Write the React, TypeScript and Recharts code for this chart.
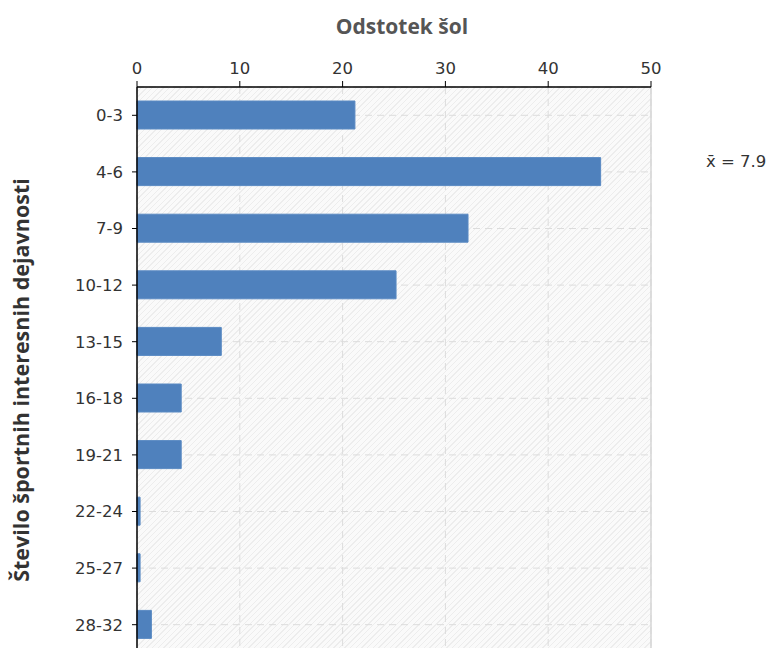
import { BarChart, Bar, XAxis, YAxis, CartesianGrid, ReferenceLine } from 'recharts'

// Distribution of schools by number of sport activities (percent)
const categories = ['0-3', '4-6', '7-9', '10-12', '13-15', '16-18', '19-21', '22-24', '25-27', '28-32']
const percents = [21.2, 45.1, 32.2, 25.2, 8.2, 4.3, 4.3, 0.3, 0.3, 1.4]
const xTicks = [0, 10, 20, 30, 40, 50]
const meanLabel = 'x\u0304 = 7.9'

const data = categories.map((c, i) => ({ group: c, pct: percents[i] }))

const tickStyle = { fill: '#333', fontSize: 16.5, fontFamily: 'DejaVu Sans' }

// plot box (px)
const PLOT = { left: 137, top: 87, width: 514, height: 566 }

export default function App() {
  return (
    <div
      style={{
        position: 'absolute',
        left: 0,
        top: 0,
        width: 775,
        height: 648,
        overflow: 'hidden',
        background: '#fff',
        fontFamily: 'DejaVu Sans',
      }}
    >
      {/* hatched plot background */}
      <div
        style={{
          position: 'absolute',
          left: PLOT.left,
          top: PLOT.top,
          width: PLOT.width,
          height: PLOT.height,
          background:
            'repeating-linear-gradient(135deg, #fafafa 0px, #fafafa 3px, #ededed 3px, #ededed 4px)',
        }}
      />

      <div style={{ position: 'absolute', left: 0, top: 0 }}>
        <BarChart
          width={775}
          height={700}
          data={data}
          layout="vertical"
          margin={{ top: 57, right: 124, left: 37, bottom: 47 }}
          barSize={28}
          style={{ fontFamily: 'DejaVu Sans' }}
        >
          <CartesianGrid stroke="#dcdcdc" strokeDasharray="7 5" />

          <XAxis
            type="number"
            orientation="top"
            domain={[0, 50]}
            ticks={xTicks}
            interval={0}
            height={30}
            tick={tickStyle}
            tickSize={6}
            tickMargin={7}
            axisLine={{ stroke: '#000', strokeWidth: 1.5 }}
            tickLine={{ stroke: '#000' }}
          />
          <YAxis
            type="category"
            dataKey="group"
            width={100}
            interval={0}
            tick={tickStyle}
            tickSize={5}
            tickMargin={9}
            axisLine={{ stroke: '#000', strokeWidth: 1.5 }}
            tickLine={{ stroke: '#000' }}
          />

          {/* right border of plot */}
          <ReferenceLine x={50} stroke="#d6d6d6" strokeWidth={1.5} />

          <Bar dataKey="pct" fill="#4f81bd" stroke="#5a8ac3" isAnimationActive={false} />
        </BarChart>
      </div>

      {/* titles */}
      <div
        style={{
          position: 'absolute',
          left: 402,
          top: 26,
          transform: 'translate(-50%, -50%)',
          whiteSpace: 'nowrap',
          color: '#555',
          fontSize: 21,
          fontWeight: 'bold',
          fontFamily: 'Open Sans',
        }}
      >
        Odstotek šol
      </div>
      <div
        style={{
          position: 'absolute',
          left: 20,
          top: 380,
          transform: 'translate(-50%, -50%) rotate(-90deg)',
          whiteSpace: 'nowrap',
          color: '#333',
          fontSize: 21.5,
          fontWeight: 'bold',
          fontFamily: 'Open Sans',
        }}
      >
        Število športnih interesnih dejavnosti
      </div>
      <div
        style={{
          position: 'absolute',
          left: 706,
          top: 152,
          whiteSpace: 'nowrap',
          color: '#333',
          fontSize: 16.5,
          fontFamily: 'DejaVu Sans',
        }}
      >
        {meanLabel}
      </div>
    </div>
  )
}
